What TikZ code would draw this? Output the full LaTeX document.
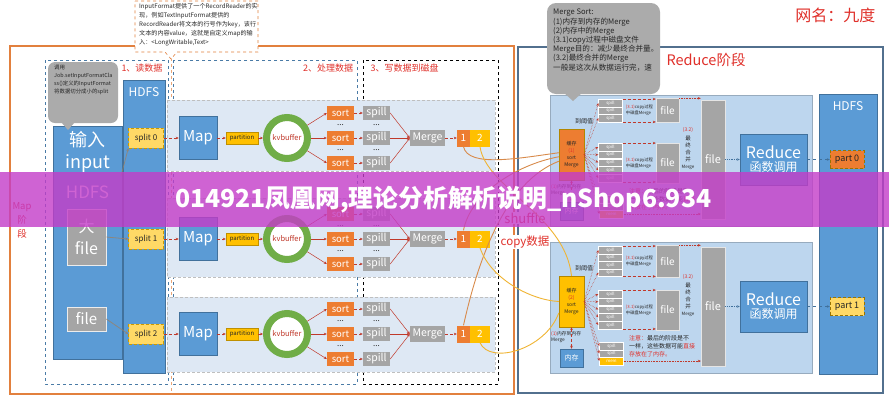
\documentclass[tikz,border=0pt]{standalone}
\usepackage{fontspec}
\setmainfont{Noto Sans CJK SC}
\usetikzlibrary{arrows.meta,positioning,calc}

\definecolor{mapedge}{HTML}{E2803E}
\definecolor{redge}{HTML}{52708E}
\definecolor{stepblue}{HTML}{4A7BA6}
\definecolor{rowbg}{HTML}{DEE8F4}
\definecolor{panelbg}{HTML}{BDD6EE}
\definecolor{mblue}{HTML}{5B9BD5}
\definecolor{mbluedk}{HTML}{41719C}
\definecolor{mgray}{HTML}{A5A5A5}
\definecolor{morange}{HTML}{ED7D31}
\definecolor{mgold}{HTML}{FFC000}
\definecolor{myel}{HTML}{FFD966}
\definecolor{kvgreen}{HTML}{70AD47}
\definecolor{arrred}{HTML}{C0392B}
\definecolor{labred}{HTML}{E0302A}
\definecolor{callgray}{HTML}{ABABAB}
\definecolor{txtdk}{HTML}{262626}
\definecolor{curveor}{HTML}{D88A4A}
\definecolor{curveyel}{HTML}{F0B432}
\definecolor{wmark}{HTML}{C43CC8}

\newcommand\fsz[2]{\fontsize{#1}{#2}\selectfont}

\tikzset{
  stagemap/.style={draw=mapedge, line width=2pt},
  stagered/.style={draw=redge, line width=2.2pt},
  stepbox/.style={draw=stepblue, dashed, line width=0.7pt},
  stepblk/.style={draw=black, dashed, line width=0.7pt},
  steplabel/.style={text=labred, font=\fsz{9}{10}},
  rowbox/.style={fill=rowbg, draw=gray!50, densely dashed, line width=0.4pt},
  blubox/.style={fill=mblue, draw=mbluedk, line width=0.5pt, inner sep=0pt, text=white},
  filebox/.style={fill=mgray, draw=white!85!gray, line width=0.6pt, inner sep=0pt, text=white},
  splitbox/.style={fill=myel, draw=mgold!80!black, densely dashed, line width=0.4pt,
    minimum width=35pt, minimum height=20pt, inner sep=0pt, font=\fsz{8}{9}, text=txtdk},
  mapbox/.style={blubox, minimum width=38pt, minimum height=43pt, font=\fsz{15}{16}},
  partbox/.style={fill=mgold, draw=mgold!75!black, line width=0.4pt, minimum width=32pt,
    minimum height=12pt, inner sep=0pt, font=\fsz{6}{7}, text=txtdk},
  kvring/.style={circle, draw=kvgreen, line width=7pt, fill=white, minimum size=41pt,
    inner sep=0pt, outer sep=3.5pt, font=\fsz{7.5}{8}, text=arrred},
  sortbox/.style={fill=morange, minimum width=27pt, minimum height=14pt, inner sep=0pt,
    font=\fsz{9.5}{10}, text=white},
  spillbox/.style={fill=mgray, minimum width=27pt, minimum height=14pt, inner sep=0pt,
    font=\fsz{10.5}{11}, text=white},
  mergebox/.style={fill=mgray, minimum width=35pt, minimum height=16pt, inner sep=0pt,
    font=\fsz{10.5}{11}, text=white},
  numbox/.style={minimum height=17pt, inner sep=0pt, font=\fsz{10}{11}, text=white},
  dotsy/.style={font=\fsz{8}{8}, inner sep=0pt, text=txtdk},
  redarr/.style={draw=arrred, line width=0.5pt, ->},
  reddash/.style={redarr, densely dashed},
  reddot/.style={draw=arrred, line width=0.6pt, densely dotted, ->},
  feedarr/.style={draw=brown!45!gray, opacity=0.75, line width=0.8pt, ->},
  panelbox/.style={fill=panelbg, draw=panelbg!80!black, line width=0.4pt},
  cachebox/.style={minimum width=25pt, minimum height=51pt, inner sep=0pt, align=center,
    font=\fsz{5}{7}, text=txtdk, draw=mgold!70!black, line width=0.3pt},
  rspill/.style={fill=mgray, draw=white, line width=0.4pt, minimum width=24pt,
    minimum height=7.5pt, inner sep=0pt, font=\fsz{4.3}{5}, text=white},
  smallfile/.style={fill=mgray, draw=white!80!gray, minimum width=23pt, inner sep=0pt,
    font=\fsz{10}{11}, text=white},
  tinytxt/.style={font=\fsz{4.8}{6.5}, text=txtdk, inner sep=0pt, align=left},
  bluedot/.style={draw=mbluedk, line width=0.8pt, densely dotted, ->},
  bluedash/.style={draw=mbluedk, line width=1pt, dashed, ->},
  outbox/.style={draw=mgold!60!black, densely dashed, line width=0.4pt, minimum width=34pt,
    minimum height=18pt, inner sep=0pt, font=\fsz{9}{10}, text=txtdk},
  shufor/.style={draw=curveor, line width=0.9pt},
  shufyel/.style={draw=curveyel, line width=0.9pt},
}

\begin{document}
\begin{tikzpicture}[x=1pt,y=-1pt,>={Stealth[length=3pt,width=2.6pt]}]
\useasboundingbox (0,0) rectangle (889,400);
\fill[white] (0,0) rectangle (889,400);

% two stages
\draw[stagemap] (10,46) rectangle (514,394);
\draw[stagered] (518,47) rectangle (883,393);
\node[text=labred, font=\fsz{14.5}{15}, anchor=west] (redlab) at (663,60) {Reduce阶段};
\node[text=labred, font=\fsz{16}{17}, anchor=east] (nick) at (879,15) {网名：九度};
\node[text=labred, font=\fsz{9.5}{14}, align=center] (maplab) at (22,220) {Map\\阶\\段};

% steps of the map side
\draw[stepbox] (45,60) rectangle (168,384);
\draw[stepbox] (173,60) rectangle (357,384);
\draw[stepblk] (363,60) rectangle (498,384);
\draw[mapedge!70, dashed, line width=0.4pt] (171,58) -- (171,394);
\node[steplabel] (lab1) at (142,68) {1、读数据};
\node[steplabel] (lab2) at (328,68) {2、处理数据};
\node[steplabel, anchor=west] (lab3) at (367,68) {3、写数据到磁盘};

\draw[rowbox] (167,100) rectangle (495,171);
\draw[rowbox] (167,198) rectangle (495,277);
\draw[rowbox] (167,297) rectangle (495,372);

% input and hdfs
\node[blubox, minimum width=42pt, minimum height=293pt] (hdfs) at (144,226.5) {};
\node[text=white, font=\fsz{12}{13}] (hdfslab) at (144,92) {HDFS};
\node[blubox, minimum width=69pt, minimum height=233pt] (input) at (87.5,242.5) {};
\node[text=white, font=\fsz{18}{19}] (inzh) at (87.5,140) {输入};
\node[text=white, font=\fsz{18}{19}] (inen) at (87.5,164) {input};
\node[text=white, font=\fsz{17}{18}] (inhd) at (87.5,192) {HDFS};
\node[filebox, minimum width=39pt, minimum height=56pt, align=center, font=\fsz{16}{22}] (bigf) at (86.5,237) {大\\file};
\node[filebox, minimum width=39pt, minimum height=24pt, font=\fsz{15}{16}] (smf) at (86.5,319) {file};
\coordinate (src0) at (121,176);

% map rows
\foreach \r/\y in {0/138,1/239,2/334}{
  \node[splitbox] (split\r) at (146,\y) {split \r};
  \node[mapbox] (map\r) at (198,\y) {Map};
  \node[partbox] (ptn\r) at (242,\y) {partition};
  \node[kvring] (kv\r) at (287,\y) {kvbuffer};
  \node[mergebox] (merge\r) at (427.5,\y) {Merge};
  \node[numbox, fill=morange, minimum width=13pt] (one\r) at (463.5,\y) {1};
  \node[numbox, fill=mgold, minimum width=20pt] (two\r) at (480,\y) {2};
  \foreach \k/\d in {1/-25,2/0,3/25}{
    \node[sortbox] (sort\r\k) at (340.5,\y+\d) {sort};
    \node[spillbox] (spill\r\k) at (376.5,\y+\d) {spill};
    \draw[redarr] (kv\r) -- (sort\r\k.west);
    \draw[reddash] (sort\r\k) -- (spill\r\k);
    \draw[redarr] (spill\r\k.east) -- (merge\r.west);
  }
  \foreach \d/\c in {-12.5/a,12.5/b}{
    \node[dotsy] (dsa\r\c) at (340.5,\y+\d) {...};
    \node[dotsy] (dsb\r\c) at (376.5,\y+\d) {...};
  }
  \draw[reddash] (split\r) -- (map\r);
  \draw[reddash] (map\r) -- (ptn\r);
  \draw[reddash] (ptn\r) -- (kv\r);
  \draw[reddash] (merge\r) -- (one\r);
}
\draw[feedarr] (src0) -- (split0.south west);
\draw[feedarr] (bigf.east) -- (split1.west);
\draw[feedarr] (smf.east) -- (split2.west);

% reduce side
\node[blubox, minimum width=58pt, minimum height=280pt] (hdfsR) at (848,234) {};
\node[text=white, font=\fsz{12}{13}] (hdfsRlab) at (848,106) {HDFS};

\foreach \p/\yo/\ns/\cc/\tg/\pc/\pn in {1/95/3/morange/{(1)}/morange/{part 0},2/242/4/mgold/{(2)}/myel/{part 1}}{
  \pgfmathsetmacro\fmid{\yo+4.25+3.75*\ns}
  \pgfmathsetmacro\fht{7.5*\ns+1.5}
  \draw[panelbox] (550,\yo) rectangle (812,\yo+131);
  \node[cachebox, fill=\cc] (cache\p) at (571.5,\yo+59.5) {缓存\\\textcolor{labred}{\tg}\\sort\\Merge};
  \node[tinytxt, font=\fsz{6}{7}] (thr\p) at (584,\yo+26) {到阈值};
  \node[tinytxt, anchor=north west] (mm\p) at (551,\yo+89) {\textcolor{labred}{(1)}内存到内存\\Merge};
  \node[blubox, minimum width=23pt, minimum height=18pt, font=\fsz{7}{8}] (mem\p) at (571.5,\yo+116) {内存};
  \draw[reddash, <->] (cache\p) -- (mem\p);
  % first spills
  \foreach \k in {1,...,\ns} \node[rspill] (rs\p\k) at (610.5,\yo+0.5+7.5*\k) {spill};
  \node[smallfile, minimum height=\fht pt] (fa\p) at (667.5,\fmid) {file};
  \draw[reddash] (rs\p1.north east) -- (rs\p1.north east -| fa\p.west);
  \draw[reddash] (rs\p\ns.south east) -- (rs\p\ns.south east -| fa\p.west);
  \node[tinytxt, font=\fsz{4.3}{6}] (ta\p) at (639.5,\fmid) {\textcolor{labred}{(3.1)}copy过程\\中磁盘Merge};
  \draw[redarr, densely dotted] (cache\p.east) -- (rs\p1.west);
  \draw[redarr, densely dotted] (cache\p.east) -- (rs\p\ns.west);
  % second spills
  \foreach \k in {1,...,5}{
    \node[rspill] (rt\p\k) at (610.5,\yo+44.25+7.75*\k) {spill};
    \draw[redarr, densely dotted] (cache\p.east) -- (rt\p\k.west);
  }
  \node[smallfile, minimum height=40pt] (fb\p) at (667.5,\yo+68) {file};
  \draw[reddash] (rt\p1.north east) -- (rt\p1.north east -| fb\p.west);
  \draw[reddash] (rt\p5.south east) -- (rt\p5.south east -| fb\p.west);
  \node[tinytxt, font=\fsz{4.3}{6}] (tb\p) at (639.5,\yo+68) {\textcolor{labred}{(3.1)}copy过程\\中磁盘Merge};
  % memory part
  \node[rspill] (ru\p1) at (611.5,\yo+104) {spill};
  \node[rspill] (ru\p2) at (611.5,\yo+111.5) {spill};
  \node[rspill, fill=mgold] (ru\p3) at (611.5,\yo+119) {mem};
  \foreach \k in {1,2,3} \draw[redarr, densely dotted] (cache\p.east) -- (ru\p\k.west);
  \node[tinytxt, font=\fsz{6}{8}, anchor=north west] (note\p) at (629,\yo+93)
    {\textcolor{labred}{注意：}最后的阶段是不\\一样，这些数据可能\textcolor{labred}{直接}\\\textcolor{labred}{存放在了内存。}};
  % final merge
  \node[tinytxt, text=labred, font=\fsz{5}{6}] (va\p) at (688,\yo+35) {(3.2)};
  \node[tinytxt, font=\fsz{5.5}{7}, align=center] (vb\p) at (688,\yo+54) {最\\终\\合\\并};
  \node[tinytxt, font=\fsz{4.5}{5}] (vc\p) at (688,\yo+72) {Merge};
  \node[smallfile, minimum width=24pt, minimum height=119pt, font=\fsz{11}{12}] (big\p) at (713,\yo+64.5) {file};
  \node[blubox, minimum width=67pt, minimum height=51pt, align=center] (rdc\p) at (773.5,\yo+64.5)
    {\fsz{16}{17}Reduce\\[1pt]\fsz{12}{13}函数调用};
  \node[outbox, fill=\pc] (out\p) at (847,\yo+64.5) {\pn};
  \draw[reddot] (fa\p.north east) -- (fa\p.north east -| big\p.west);
  \draw[reddot] (ru\p3.east) -- (ru\p3.east -| big\p.west);
  \draw[bluedot] (big\p) -- (rdc\p);
  \draw[bluedash] (rdc\p) -- (out\p);
}

% callouts
\draw[mapedge, dashed, line width=0.6pt, fill=white] (135,1) -- (258,1) -- (258,52) -- (177,52)
  -- (171,59) -- (165,52) -- (135,52) -- cycle;
\node[tinytxt, font=\fsz{6.1}{9}, anchor=north west] (cin) at (139,3)
  {InputFormat提供了一个RecordReader的实\\现，例如TextInputFormat提供的\\RecordReader将文本的行号作为key，该行\\文本的内容value，这就是自定义map的输\\入：<LongWritable,Text>};
\fill[callgray, rounded corners=7pt] (48,62) rectangle (118,123);
\fill[callgray] (61,122) -- (75,122) -- (68,130) -- cycle;
\node[tinytxt, font=\fsz{5.4}{7.8}, anchor=north west] (cjob) at (54,65)
  {调用\\Job.setInputFormatCla\\ss()定义的InputFormat\\将数据切分成小的split};
\fill[callgray, rounded corners=9pt] (547,3) rectangle (660,94);
\fill[callgray] (563,92) -- (583,92) -- (573,101) -- cycle;
\node[tinytxt, font=\fsz{7.6}{9.2}, anchor=north west] (cms) at (553,9)
  {Merge Sort:\\(1)内存到内存的Merge\\(2)内存中的Merge\\(3.1)copy过程中磁盘文件\\Merge目的：减少最终合并量。\\(3.2)最终合并的Merge\\一般是这次从数据运行完，速};

% shuffle
\node[fill=white, text=labred, font=\fsz{13}{14}, inner sep=1pt] (shuf) at (525,218) {shuffle};
\node[fill=white, text=labred, font=\fsz{11.5}{12}, inner sep=1pt] (copy) at (525,242) {copy数据};
\draw[shufor] (one0.south) .. controls (468,168) and (520,158) .. (cache1.172);
\draw[shufor] (one1.north) .. controls (470,195) and (515,165) .. (cache1.190);
\draw[shufor] (one2.north) .. controls (478,260) and (505,182) .. (cache1.208);
\draw[shufyel] (two0.south) .. controls (486,188) and (565,215) .. (cache2.north);
\draw[shufyel] (two1.south) .. controls (490,278) and (530,300) .. (cache2.180);
\draw[shufyel] (two2.south) .. controls (490,365) and (545,350) .. (cache2.222);

% watermark band
\fill[wmark, opacity=0.8] (0,172) rectangle (889,227);
\node[text=white, font={\fsz{24.8}{26}\bfseries}, anchor=west, inner sep=0pt] (wm) at (175,200)
  {014921凤凰网,理论分析解析说明\_nShop6.934};
\end{tikzpicture}
\end{document}
